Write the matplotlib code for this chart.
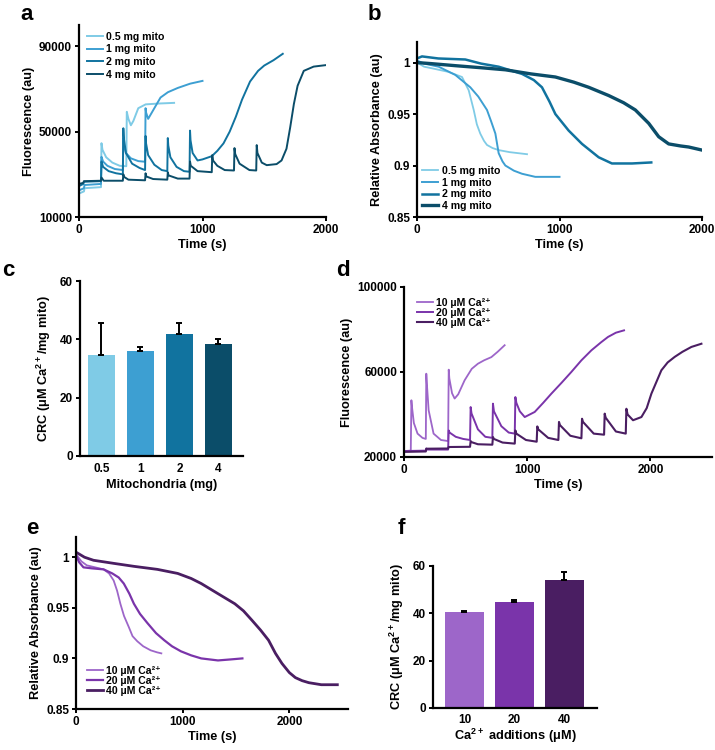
import matplotlib
matplotlib.use("Agg")
import matplotlib.pyplot as plt

plt.rcParams['font.family'] = ['Liberation Sans', 'DejaVu Sans']
plt.rcParams['font.weight'] = 'bold'
plt.rcParams['axes.labelweight'] = 'bold'
plt.rcParams['mathtext.fontset'] = 'custom'
plt.rcParams['mathtext.rm'] = 'Liberation Sans:bold'
plt.rcParams['mathtext.bf'] = 'Liberation Sans:bold'
plt.rcParams['mathtext.default'] = 'bf'

# ---------------- data ----------------
# panel a: Ca2+ green fluorescence, different mito amounts
a_t_05 = [0, 40, 45, 178, 182, 190, 220, 270, 330, 383, 387, 400, 420, 440, 480, 540, 650, 770]
a_y_05 = [21000, 22000, 23500, 24000, 44600, 41500, 38000, 35500, 34000, 33800, 59300, 56000, 53000, 55000, 61000, 62800, 63200, 63500]
a_t_1 = [0, 40, 45, 178, 182, 195, 230, 290, 355, 359, 363, 380, 420, 480, 535, 539, 543, 560, 600, 660, 720, 800, 900, 1000]
a_y_1 = [22500, 23500, 25000, 25500, 38200, 36000, 34000, 32500, 32000, 47000, 44000, 40000, 37500, 36200, 35900, 61000, 59000, 56000, 60000, 66000, 68500, 70500, 72500, 73800]
a_t_2 = [0, 35, 40, 178, 182, 195, 240, 300, 355, 359, 363, 380, 430, 490, 535, 539, 543, 560, 610, 670, 715, 719, 723, 740, 790, 850, 895, 899, 903, 920,
         960, 1000, 1075, 1120, 1170, 1220, 1270, 1320, 1385, 1450, 1500, 1575, 1650]
a_y_2 = [24500, 25500, 26500, 26800, 36000, 33500, 31500, 30500, 30000, 51600, 47000, 40000, 35000, 33000, 32000, 48000, 44500, 39000, 34500, 32000, 31500, 47000, 43500, 38000, 33500, 31500, 31200, 50500, 46000, 40000,
         36500, 37000, 38500, 41000, 44500, 50000, 57000, 65000, 73500, 78500, 81000, 83500, 86500]
a_t_4 = [0, 35, 40, 178, 182, 200, 355, 359, 365, 400, 535, 539, 545, 600, 715, 719, 725, 800, 895, 899, 905, 960, 1075, 1079, 1085, 1120, 1180,
         1255, 1259, 1265, 1300, 1380, 1435, 1439, 1445, 1480, 1520, 1600, 1640, 1680, 1710, 1740, 1770, 1820, 1900, 2000]
a_y_4 = [25500, 26000, 26800, 27000, 28500, 27000, 27000, 30000, 28800, 27500, 27200, 30500, 29000, 27800, 27500, 31000, 29500, 28000, 28000, 36000, 34000, 31500, 31000, 39000, 36500, 34000, 32000,
         31800, 42300, 39500, 35000, 32000, 31800, 43700, 40000, 35500, 34300, 34800, 36500, 42000, 52000, 63000, 71500, 78500, 80500, 81200]

# panel b: swelling (absorbance), different mito amounts
b_t_05 = [0, 50, 120, 220, 316, 363, 398, 420, 444, 470, 491, 530, 573, 650, 772]
b_y_05 = [1.0, 0.996, 0.994, 0.991, 0.986, 0.973, 0.954, 0.940, 0.931, 0.924, 0.920, 0.917, 0.915, 0.913, 0.911]
b_t_1 = [0, 50, 152, 269, 374, 430, 491, 520, 550, 573, 600, 620, 680, 737, 830, 1000]
b_y_1 = [1.002, 0.999, 0.996, 0.988, 0.976, 0.967, 0.954, 0.943, 0.931, 0.912, 0.904, 0.900, 0.895, 0.892, 0.889, 0.889]
b_t_2 = [0, 35, 150, 339, 450, 573, 737, 820, 877, 930, 971, 1064, 1158, 1275, 1368, 1509, 1644]
b_y_2 = [1.004, 1.006, 1.004, 1.003, 0.999, 0.996, 0.989, 0.983, 0.976, 0.962, 0.950, 0.934, 0.921, 0.908, 0.902, 0.902, 0.903]
b_t_4 = [0, 100, 269, 450, 620, 800, 971, 1100, 1205, 1345, 1450, 1532, 1626, 1696, 1766, 1850, 1906, 2000]
b_y_4 = [1.0, 0.999, 0.997, 0.995, 0.993, 0.989, 0.986, 0.981, 0.976, 0.968, 0.961, 0.954, 0.941, 0.928, 0.921, 0.919, 0.918, 0.915]

# panel c: CRC per mito amount
c_labels = ['0.5', '1', '2', '4']
c_values = [34.5, 35.9, 41.7, 38.3]
c_errors = [11.0, 1.4, 3.8, 1.7]

# panel d: fluorescence, different Ca2+ additions
d_t_10 = [0, 55, 60, 64, 80, 110, 150, 177, 181, 185, 200, 240, 300, 358, 363, 368, 390, 411, 440, 492, 550, 600, 650, 709, 760, 817]
d_y_10 = [22800, 23000, 46700, 44000, 36000, 31000, 29000, 28500, 59200, 55000, 42000, 31000, 28000, 27500, 61100, 57000, 50000, 47500, 49500, 56100, 61500, 63900, 65500, 67000, 69500, 72600]
d_t_20 = [0, 177, 181, 185, 358, 363, 370, 420, 480, 536, 541, 548, 600, 660, 717, 722, 730, 790, 850, 899, 904, 912, 940, 980, 1061,
          1130, 1196, 1280, 1358, 1440, 1521, 1600, 1656, 1720, 1786]
d_y_20 = [22800, 23000, 24000, 23500, 23500, 32500, 31500, 29500, 28500, 28000, 43500, 40500, 33000, 29500, 29000, 45100, 41500, 34500, 31500, 31000, 48200, 45500, 41500, 38800, 41200,
          45500, 49800, 55000, 60000, 65500, 70200, 74000, 76500, 78500, 79600]
d_t_40 = [0, 177, 181, 358, 363, 536, 541, 548, 600, 717, 722, 730, 800, 899, 904, 912, 990, 1077, 1082, 1090, 1170, 1253, 1258, 1266, 1350,
          1440, 1445, 1453, 1540, 1624, 1629, 1637, 1720, 1800, 1805, 1815, 1859, 1927, 1970, 2008, 2050, 2089, 2140, 2197, 2260, 2333, 2414]
d_y_40 = [22400, 22600, 23900, 24000, 24700, 24800, 27500, 27000, 26000, 25800, 29400, 28500, 26800, 26300, 32500, 31000, 28000, 27200, 34400, 33000, 29000, 28000, 36500, 35000, 30000,
          28800, 38000, 36500, 31000, 30500, 40400, 38500, 32000, 31000, 42700, 40000, 37300, 38800, 43000, 49800, 55500, 60800, 64500, 67100, 69500, 71800, 73300]

# panel e: absorbance, different Ca2+ additions
e_t_10 = [0, 50, 101, 180, 259, 310, 353, 385, 416, 450, 495, 530, 574, 630, 700, 760, 800]
e_y_10 = [1.003, 0.996, 0.992, 0.990, 0.988, 0.984, 0.977, 0.967, 0.954, 0.942, 0.931, 0.922, 0.917, 0.912, 0.908, 0.906, 0.905]
e_t_20 = [0, 30, 70, 150, 259, 340, 400, 448, 500, 543, 600, 669, 750, 827, 900, 984, 1080, 1174, 1331, 1450, 1560]
e_y_20 = [1.002, 0.995, 0.990, 0.989, 0.988, 0.984, 0.980, 0.974, 0.964, 0.954, 0.944, 0.935, 0.925, 0.918, 0.912, 0.907, 0.903, 0.900, 0.898, 0.899, 0.900]
e_t_40 = [0, 80, 164, 350, 543, 763, 953, 1080, 1174, 1331, 1489, 1570, 1647, 1730, 1805, 1870, 1931, 2000, 2057, 2120, 2183, 2300, 2450]
e_y_40 = [1.005, 1.0, 0.997, 0.994, 0.991, 0.988, 0.984, 0.979, 0.974, 0.964, 0.954, 0.947, 0.938, 0.928, 0.918, 0.905, 0.895, 0.886, 0.881, 0.878, 0.876, 0.874, 0.874]

# panel f: CRC per Ca2+ addition size
f_labels = ['10', '20', '40']
f_values = [40.5, 44.8, 54.1]
f_errors = [0.6, 0.9, 3.4]

mito_labels = ['0.5 mg mito', '1 mg mito', '2 mg mito', '4 mg mito']
ca_labels = ['10 µM Ca²⁺', '20 µM Ca²⁺', '40 µM Ca²⁺']
blues = ['#7fcbe6', '#3d9fd2', '#11739f', '#0b4d69']
purples = ['#9d66c9', '#7a34aa', '#4a1e62']

TICK_FS = 8.5
LABEL_FS = 9.2
LEG_FS = 7.6
LETTER_FS = 16

W, H = 715, 750
fig = plt.figure(figsize=(W / 100, H / 100), dpi=100)


def axes_px(left, top, right, bottom):
    ax = fig.add_axes([left / W, 1 - bottom / H, (right - left) / W, (bottom - top) / H])
    for s in ['top', 'right']:
        ax.spines[s].set_visible(False)
    for s in ['left', 'bottom']:
        ax.spines[s].set_linewidth(1.6)
    ax.tick_params(direction='out', length=3, width=1.4, labelsize=TICK_FS, pad=2)
    return ax


def style_legend(ax, loc, anchor, spacing=0.15):
    return ax.legend(loc=loc, bbox_to_anchor=anchor, frameon=False, fontsize=LEG_FS,
                     handlelength=1.5, handletextpad=0.35, labelspacing=spacing,
                     borderaxespad=0, borderpad=0)


# ---- a ----
ax = axes_px(79, 25, 326, 217)
for t, y, c, lab in zip([a_t_05, a_t_1, a_t_2, a_t_4], [a_y_05, a_y_1, a_y_2, a_y_4],
                        blues, mito_labels):
    ax.plot(t, y, color=c, lw=1.4, label=lab)
ax.set_xlim(0, 2000)
ax.set_ylim(10000, 100000)
ax.set_xticks([0, 1000, 2000])
ax.set_yticks([10000, 50000, 90000])
ax.set_xlabel('Time (s)', fontsize=LABEL_FS, labelpad=2)
ax.set_ylabel('Fluorescence (au)', fontsize=LABEL_FS, labelpad=3)
style_legend(ax, 'upper left', (0.032, 0.965), spacing=0.25)
fig.text(20 / W, 1 - 20 / H, 'a', fontsize=LETTER_FS, fontweight='bold')

# ---- b ----
ax = axes_px(417, 42, 702, 217)
for t, y, c, lab, lw in zip([b_t_05, b_t_1, b_t_2, b_t_4], [b_y_05, b_y_1, b_y_2, b_y_4],
                            blues, mito_labels, [1.3, 1.4, 1.8, 2.4]):
    ax.plot(t, y, color=c, lw=lw, label=lab)
ax.set_xlim(0, 2000)
ax.set_ylim(0.85, 1.02)
ax.set_xticks([0, 1000, 2000])
ax.set_yticks([0.85, 0.9, 0.95, 1])
ax.set_yticklabels(['0.85', '0.9', '0.95', '1'])
ax.set_xlabel('Time (s)', fontsize=LABEL_FS, labelpad=2)
ax.set_ylabel('Relative Absorbance (au)', fontsize=LABEL_FS, labelpad=3)
style_legend(ax, 'lower left', (0.018, 0.035))
fig.text(368 / W, 1 - 20 / H, 'b', fontsize=LETTER_FS, fontweight='bold')

# ---- c ----
ax = axes_px(80, 281, 243, 456)
xc = range(len(c_values))
ax.bar(xc, c_values, width=0.69, color=blues)
ax.errorbar(xc, c_values, yerr=[[0] * len(c_errors), c_errors], fmt='none',
            ecolor='black', elinewidth=1.4, capsize=2.5, capthick=1.4)
ax.set_xlim(-0.55, 3.63)
ax.set_ylim(0, 60)
ax.set_xticks(list(xc))
ax.set_xticklabels(c_labels)
ax.tick_params(axis='x', length=0, pad=5)
ax.set_yticks([0, 20, 40, 60])
ax.set_xlabel('Mitochondria (mg)', fontsize=LABEL_FS, labelpad=3)
ax.set_ylabel('CRC ($\\mu$M Ca$^{2+}$/mg mito)', fontsize=LABEL_FS, labelpad=5)
fig.text(2 / W, 1 - 276 / H, 'c', fontsize=LETTER_FS, fontweight='bold')

# ---- d ----
ax = axes_px(404, 287, 712, 457)
for t, y, c, lab, lw in zip([d_t_10, d_t_20, d_t_40], [d_y_10, d_y_20, d_y_40],
                            purples, ca_labels, [1.3, 1.4, 1.5]):
    ax.plot(t, y, color=c, lw=lw, label=lab)
ax.set_xlim(0, 2500)
ax.set_ylim(20000, 100000)
ax.set_xticks([0, 1000, 2000])
ax.set_yticks([20000, 60000, 100000])
ax.set_xlabel('Time (s)', fontsize=LABEL_FS, labelpad=2)
ax.set_ylabel('Fluorescence (au)', fontsize=LABEL_FS, labelpad=3)
style_legend(ax, 'upper left', (0.042, 0.935), spacing=0.0)
fig.text(336 / W, 1 - 276 / H, 'd', fontsize=LETTER_FS, fontweight='bold')

# ---- e ----
ax = axes_px(76, 537, 348, 709)
for t, y, c, lab, lw in zip([e_t_10, e_t_20, e_t_40], [e_y_10, e_y_20, e_y_40],
                            purples, ca_labels, [1.3, 1.6, 2.0]):
    ax.plot(t, y, color=c, lw=lw, label=lab)
ax.set_xlim(0, 2550)
ax.set_ylim(0.85, 1.02)
ax.set_xticks([0, 1000, 2000])
ax.set_yticks([0.85, 0.9, 0.95, 1])
ax.set_yticklabels(['0.85', '0.9', '0.95', '1'])
ax.set_xlabel('Time (s)', fontsize=LABEL_FS, labelpad=2)
ax.set_ylabel('Relative Absorbance (au)', fontsize=LABEL_FS, labelpad=3)
style_legend(ax, 'lower left', (0.04, 0.075), spacing=0.0)
fig.text(26 / W, 1 - 534 / H, 'e', fontsize=LETTER_FS, fontweight='bold')

# ---- f ----
ax = axes_px(433, 566, 597, 708)
xf = range(len(f_values))
ax.bar(xf, f_values, width=0.78, color=purples)
ax.errorbar(xf, f_values, yerr=[[0] * len(f_errors), f_errors], fmt='none',
            ecolor='black', elinewidth=1.4, capsize=2.5, capthick=1.4)
ax.set_xlim(-0.63, 2.66)
ax.set_ylim(0, 60)
ax.set_xticks(list(xf))
ax.set_xticklabels(f_labels)
ax.tick_params(axis='x', length=0, pad=4)
ax.set_yticks([0, 20, 40, 60])
ax.set_xlabel('Ca$^{2+}$ additions ($\\mu$M)', fontsize=LABEL_FS, labelpad=1)
ax.set_ylabel('CRC ($\\mu$M Ca$^{2+}$/mg mito)', fontsize=LABEL_FS, labelpad=5)
fig.text(398 / W, 1 - 534 / H, 'f', fontsize=LETTER_FS, fontweight='bold')

fig.savefig('out.png', dpi=100)
